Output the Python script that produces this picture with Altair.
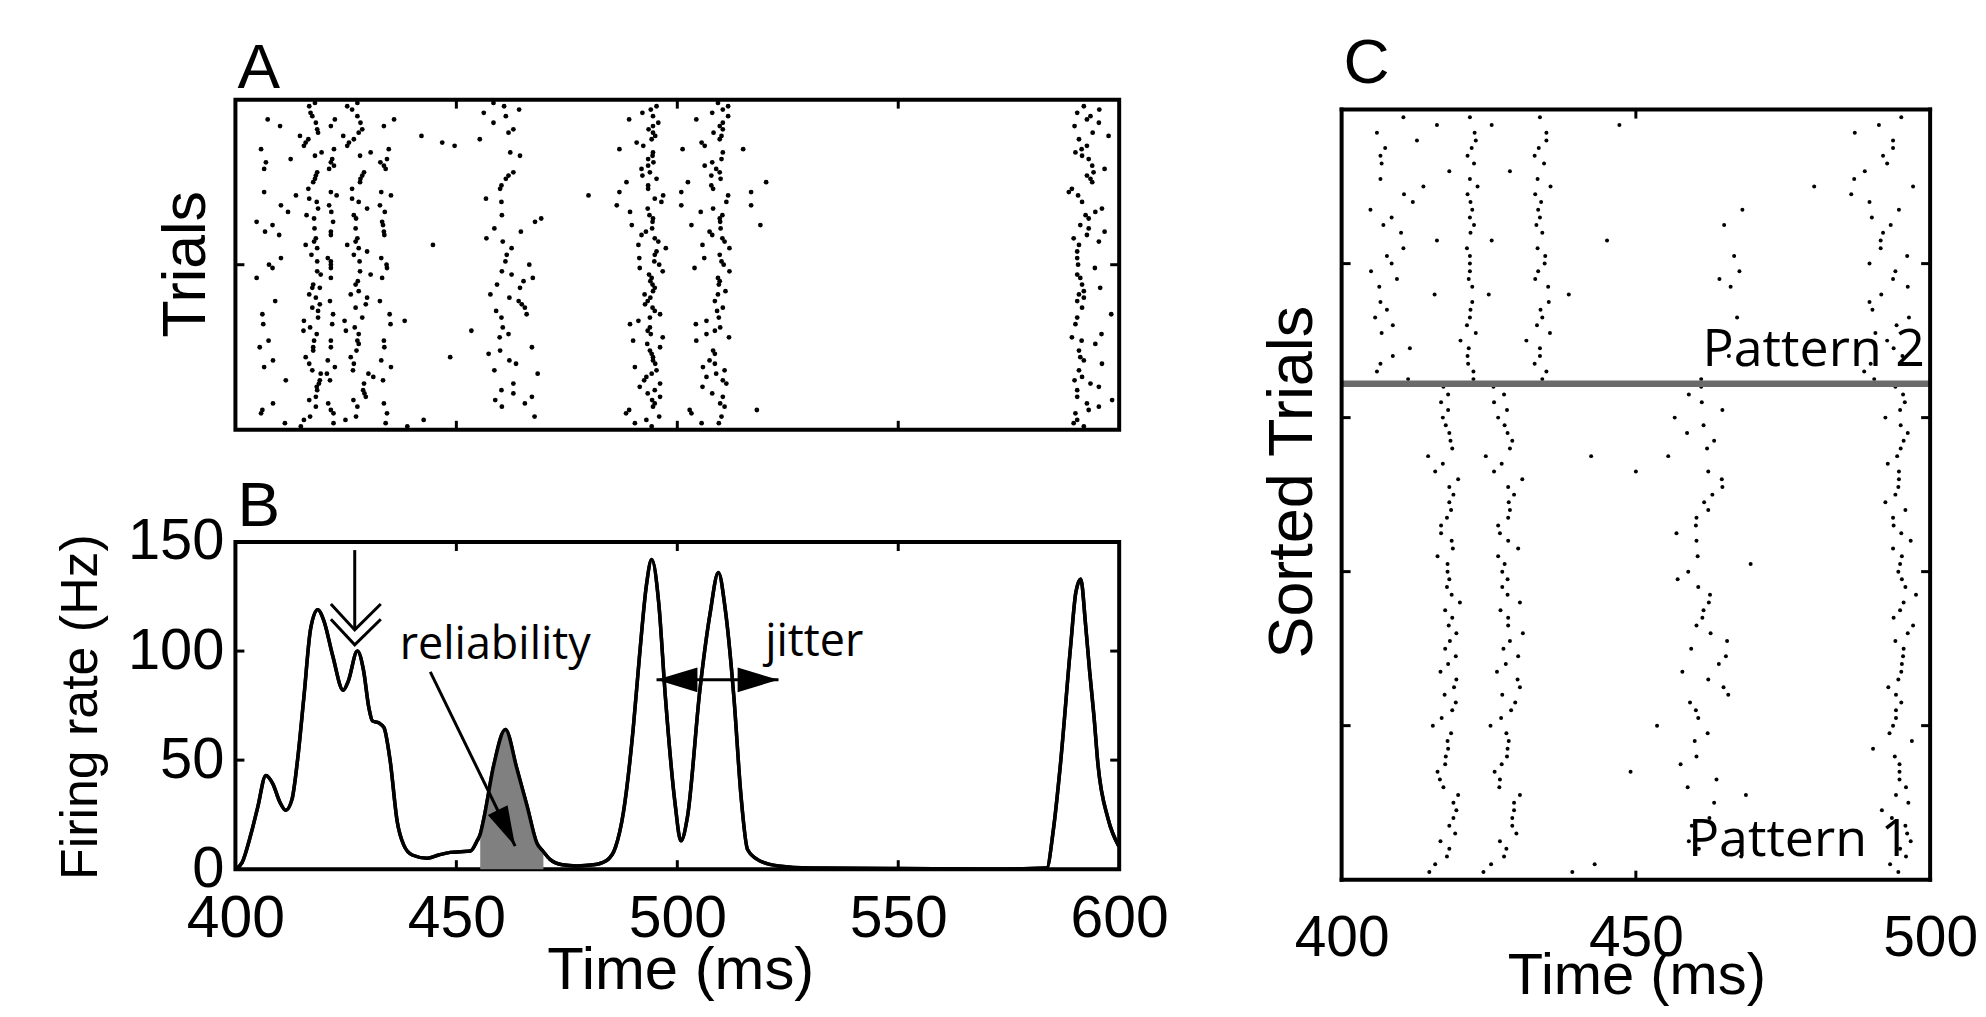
import altair as alt
import pandas as pd

AX_FONT = "Liberation Sans"
ANN_FONT = "Open Sans"

# ---------------- Panel A: raster, (trial, spike time in ms) ----------------
A_EARLY = [
    (98,416.7),(99,418.0),(96,417.0),(95,417.4),(98,425.3),(99,427.6),(97,426.4),(95,427.6),(94,407.3),(92,410.1),
    (93,418.2),(92,421.6),(94,422.5),(93,428.3),(92,433.6),(94,435.9),(91,418.5),(90,418.7),(91,428.7),(90,427.9),
    (89,414.6),(88,416.5),(87,415.9),(86,415.5),(89,424.4),(87,425.7),(86,425.3),(88,426.8),(89,442.1),(85,405.8),
    (82,412.5),(83,418.0),(84,419.5),(85,422.3),(82,421.9),(83,428.2),(84,430.6),(85,434.7),(82,434.3),(81,406.9),
    (79,406.5),(81,421.6),(80,422.3),(79,421.2),(81,432.8),(80,433.6),(79,434.0),(78,418.5),(77,418.2),(76,418.0),
    (75,417.6),(73,416.5),(78,429.1),(77,428.7),(76,428.3),(75,428.2),(73,426.4),(72,406.5),(71,413.7),(72,421.6),
    (71,422.9),(72,433.0),(71,435.2),(70,426.4),(70,416.7),(69,418.4),(67,418.7),(68,410.3),(66,411.9),(68,421.2),
    (66,421.7),(69,427.9),(67,429.8),(68,432.7),(66,433.8),(65,416.1),(64,417.8),(65,426.8),(64,427.3),(63,422.1),
    (63,404.8),(62,408.4),(63,433.2),(62,433.4),(60,406.7),(59,409.9),(61,417.9),(60,421.6),(59,421.6),(61,427.2),
    (60,433.6),(59,433.7),(58,418.2),(57,417.8),(56,415.9),(55,418.5),(53,417.2),(58,427.6),(57,427.2),(56,425.3),
    (55,427.9),(53,426.8),(54,429.8),(52,420.9),(51,421.6),(56,444.7),(52,410.3),(50,407.6),(49,408.4),(51,418.5),
    (47,419.3),(48,418.5),(50,421.6),(49,421.6),(51,428.1),(48,428.2),(52,433.0),(50,434.2),(49,434.3),(46,404.8),
    (44,417.6),(43,417.4),(43,419.1),(46,421.6),(44,427.2),(45,427.7),(41,426.1),(42,427.9),(47,430.6),(46,433.2),
    (41,416.7),(40,418.2),(37,417.4),(38,419.1),(36,418.7),(34,418.7),(33,415.5),(39,409.0),(35,406.1),(32,406.3),
    (39,421.4),(35,422.1),(32,421.9),(40,429.8),(38,429.5),(37,427.2),(39,432.7),(34,428.7),(35,434.9),(32,435.1),
    (33,424.7),(33,438.3),(31,416.9),(30,415.4),(29,418.4),(27,417.8),(25,417.6),(24,417.6),(22,415.9),(27,407.5),
    (25,405.5),(27,421.6),(25,421.6),(31,427.0),(30,425.0),(29,427.9),(27,427.6),(26,427.9),(24,427.4),(22,426.1),
    (27,433.6),(25,433.7),(20,416.7),(18,417.4),(17,419.3),(15,419.1),(14,418.9),(13,418.4),(12,418.5),(21,408.5),
    (19,406.5),(15,411.4),(21,420.9),(19,422.5),(17,420.7),(15,421.4),(20,426.8),(18,426.6),(17,430.1),(16,431.2),
    (15,433.4),(21,433.0),(19,435.2),(14,429.1),(12,428.9),(10,418.2),(9,416.7),(7,418.2),(4,416.9),(3,415.5),
    (8,408.5),(6,406.1),(5,405.8),(2,411.2),(1,414.8),(8,421.0),(6,421.6),(5,422.2),(2,422.2),(9,426.7),
    (7,427.6),(4,427.3),(3,424.9),(11,429.2),(10,429.5),(8,433.6),(5,434.3),(2,434.0),(3,442.6),(1,438.9),
]
A_MID = [
    (87,446.8),(86,449.6),(88,455.3),(99,458.4),(98,460.8),(96,456.2),(95,461.2),(97,464.2),(93,458.4),(91,462.9),
    (90,461.8),(84,462.2),(83,464.4),(77,461.8),(76,461.2),(78,462.9),(74,460.2),(73,459.9),(71,479.9),(70,456.7),
    (69,460.2),(65,460.3),(63,467.8),(64,469.2),(61,458.6),(60,464.6),(58,456.8),(57,460.5),(55,462.5),(53,461.4),
    (51,461.1),(48,460.3),(47,462.5),(50,466.5),(46,467.3),(44,459.2),(45,465.2),(43,464.4),(41,457.7),(40,462.0),
    (39,464.1),(38,464.8),(37,465.5),(36,459.0),(35,465.9),(34,460.2),(30,453.4),(31,460.5),(29,461.8),(28,459.8),
    (25,467.1),(24,459.9),(23,457.3),(22,448.6),(21,462.0),(20,463.5),(18,458.6),(17,468.4),(12,460.2),(14,462.9),
    (11,462.9),(9,458.8),(7,460.3),(10,467.1),(8,465.5),(4,467.7),
]
A_LATE = [
    (98,495.3),(97,494.0),(96,492.1),(95,494.5),(94,489.1),(93,495.7),(92,494.5),(91,493.5),(90,494.5),(89,495.0),
    (88,494.2),(87,490.8),(86,492.3),(85,486.9),(84,494.5),(83,494.4),(82,493.4),(81,494.6),(80,493.4),(79,491.9),
    (78,493.8),(77,492.1),(76,495.3),(75,488.5),(74,493.4),(73,493.4),(72,486.9),(71,496.8),(70,494.9),(69,496.4),
    (68,486.3),(67,493.3),(66,489.3),(65,493.7),(64,494.5),(63,494.4),(62,489.7),(61,494.3),(60,492.9),(59,491.9),
    (58,494.9),(57,495.7),(56,491.2),(55,497.4),(54,495.3),(53,494.9),(52,491.4),(51,494.8),(50,495.9),(49,491.5),
    (48,496.7),(47,493.6),(46,494.2),(45,493.9),(44,494.4),(43,494.9),(42,494.5),(41,492.6),(40,493.9),(39,493.3),
    (38,492.7),(37,494.4),(36,494.9),(35,496.1),(34,493.8),(33,491.2),(32,489.3),(31,493.8),(30,493.3),(29,494.0),
    (28,496.7),(27,490.0),(26,493.2),(25,496.1),(24,493.8),(23,494.2),(22,494.5),(21,494.5),(20,495.0),(19,490.4),
    (18,495.3),(17,494.2),(16,493.0),(15,492.5),(14,496.1),(13,491.5),(12,494.9),(11,493.3),(10,496.1),(9,494.3),
    (8,494.9),(7,494.5),(6,489.1),(5,488.4),(4,495.9),(3,493.0),(2,490.4),(1,494.2),
]
A_510 = [
    (99,509.2),(98,511.5),(97,510.3),(96,507.9),(95,511.5),(94,504.3),(93,510.3),(92,509.6),(91,510.3),(90,508.2),
    (89,510.0),(88,509.6),(87,505.5),(86,506.2),(85,501.2),(85,514.9),(84,510.3),(82,510.0),(80,506.2),(81,507.9),
    (79,508.8),(78,509.6),(77,507.7),(76,509.8),(75,502.4),(75,520.1),(74,507.7),(73,508.1),(72,500.9),(72,516.7),
    (71,511.5),(69,511.1),(68,500.9),(68,516.7),(66,505.3),(67,508.1),(65,510.2),(64,509.6),(63,509.7),(62,503.2),
    (62,518.8),(61,509.8),(60,507.3),(59,507.9),(58,510.2),(57,510.7),(56,505.7),(55,511.8),(53,509.6),(52,506.1),
    (51,510.0),(50,510.5),(49,503.9),(48,511.8),(46,509.2),(45,509.6),(44,509.4),(42,510.9),(41,509.2),(39,508.5),
    (37,510.3),(36,509.0),(34,509.4),(32,504.2),(33,506.6),(31,509.7),(29,506.6),(30,508.5),(28,511.7),(27,504.3),
    (24,508.1),(23,508.5),(21,507.3),(19,505.8),(20,508.5),(17,508.8),(16,506.6),(18,510.7),(15,510.3),(13,505.7),
    (14,511.1),(11,507.9),(10,510.3),(8,509.7),(7,510.7),(6,502.8),(5,503.2),(6,518.0),(4,510.0),(2,505.5),(2,509.4),
]
A_591 = [
    (98,592.0),(96,590.5),(97,595.5),(94,592.7),(95,593.5),(93,595.4),(92,589.9),(90,594.0),(88,590.9),(89,597.6),
    (86,592.7),(84,590.1),(85,591.5),(83,591.6),(82,593.1),(80,593.9),(79,596.7),(77,592.7),(78,594.2),(76,593.5),
    (75,593.9),(73,589.3),(71,590.7),(72,588.6),(69,591.6),(65,592.4),(66,594.6),(67,596.1),(64,593.1),(62,591.2),
    (61,593.1),(59,592.7),(60,596.7),(58,589.7),(57,595.4),(56,590.9),(54,590.5),(52,590.5),(50,590.7),(49,594.5),
    (47,590.5),(46,591.2),(44,591.6),(42,592.0),(43,595.7),(41,590.9),(40,592.0),(39,590.5),(37,591.6),(35,598.2),
    (34,590.5),(32,590.1),(28,589.3),(27,591.5),(26,594.6),(29,596.0),(24,590.9),(22,591.2),(21,592.0),(20,596.1),
    (18,590.9),(16,591.6),(15,589.9),(14,593.5),(13,595.4),(12,590.5),(10,590.5),(8,592.7),(9,598.4),(6,593.1),
    (7,595.4),(5,590.1),(3,590.5),(2,589.7),(1,592.0),
]

# ---------------- Panel B: firing rate curve ----------------
RATE_TIME = [400.0, 401.5, 403.5, 405.0, 406.9, 408.5, 410.0, 411.4, 412.8, 414.0, 415.5, 417.0, 418.6, 420.0,
             422.0, 424.4, 425.5, 427.6, 429.0, 430.2, 431.0, 432.5, 433.6, 435.0, 436.6, 438.1, 440.0, 443.4,
             446.0, 448.6, 451.0, 453.2, 454.7, 455.4, 456.2, 458.5, 461.1, 463.7, 466.0, 468.2, 469.7, 471.2,
             474.0, 477.2, 481.0, 484.0, 486.0, 487.8, 490.0, 491.5, 493.0, 494.2, 495.8, 497.3, 499.5, 500.8,
             502.3, 505.1, 507.4, 509.3, 510.8, 512.8, 514.4, 515.9, 518.5, 522.9, 530.0, 550.0, 570.0, 583.6,
             585.1, 586.7, 589.0, 590.2, 591.3, 592.4, 593.3, 594.3, 595.2, 597.5, 599.9]
RATE_HZ = [0.0, 3.0, 16.0, 28.0, 43.0, 39.0, 31.0, 27.0, 32.0, 49.0, 79.0, 110.0, 119.0, 114.0,
           98.0, 82.0, 86.0, 100.0, 91.0, 74.0, 68.0, 67.0, 65.0, 50.0, 22.0, 11.0, 6.5, 5.0,
           6.5, 7.7, 8.0, 8.3, 13.0, 16.0, 23.0, 48.0, 64.0, 46.0, 29.0, 12.0, 8.0, 4.5,
           2.0, 1.5, 2.0, 4.0, 10.0, 26.0, 64.0, 99.0, 130.0, 142.0, 122.0, 79.0, 30.0, 13.0,
           24.0, 82.0, 117.0, 136.0, 120.0, 79.0, 34.0, 9.0, 4.0, 1.5, 0.5, 0.3, 0.0, 0.5,
           18.0, 48.0, 102.0, 127.0, 133.0, 112.0, 91.0, 70.0, 48.0, 23.0, 10.6]
SHADE_START, SHADE_END = 455.4, 469.7

REL_ARROW = {"x": [444.1], "y": [90.5], "x2": [463.3], "y2": [10.6]}
JIT_ARROW = {"x": [495.3], "y": [86.8], "x2": [522.9], "y2": [86.8]}
DOWN_ARROW = {"x": [427.0], "y": [146.3], "x2": [427.0], "y2": [109.7]}
CHEVRON_ID = [1, 1, 1, 2, 2, 2]
CHEVRON_X = [421.6, 427.0, 432.9, 421.6, 427.0, 432.9]
CHEVRON_Y = [121.6, 109.7, 121.6, 114.6, 102.9, 114.6]
B_TEXT = ["reliability", "jitter"]
B_TEXT_X = [458.8, 531.0]
B_TEXT_Y = [96.5, 97.9]

# ---------------- Panel C: sorted raster ----------------
C_PATTERN2 = [
    (99, [410.5, 421.8, 433.7, 495.1]), (98, [416.2, 425.5, 447.2, 491.3]), (97, [406.0, 422.6, 434.8, 487.2]),
    (96, [412.8, 422.8, 434.8, 493.7]), (95, [407.4, 422.1, 433.5, 493.7]), (94, [406.6, 421.4, 432.8, 492.0]),
    (93, [406.8, 422.5, 434.4, 492.7]), (92, [418.3, 428.6, 488.9]), (91, [406.6, 421.8, 433.3, 487.1]),
    (90, [413.9, 423.1, 435.5, 480.3, 497.1]), (89, [410.6, 421.4, 432.9, 486.6]), (88, [412.1, 421.9, 433.9, 489.7]),
    (87, [404.9, 422.2, 433.4, 468.1, 494.7]), (86, [408.5, 421.8, 433.7, 490.1]),
    (85, [407.1, 422.5, 433.1, 465.0, 493.3]), (84, [410.1, 421.9, 434.1, 492.0]), (83, [416.2, 425.5, 445.1, 491.6]),
    (82, [410.5, 421.3, 433.3, 491.6]), (81, [407.7, 421.8, 434.6, 466.7, 496.1]), (80, [408.5, 421.8, 434.5, 489.7]),
    (79, [405.0, 421.8, 433.4, 467.6, 494.1]), (78, [409.4, 421.6, 432.9, 464.2, 493.7]),
    (77, [406.4, 422.2, 435.1, 466.1, 496.2]), (76, [415.8, 425.0, 438.6, 491.7]), (75, [406.6, 422.2, 435.2, 489.7]),
    (74, [407.7, 421.9, 433.8, 490.2]), (73, [405.7, 421.8, 434.1, 467.2, 496.4]), (72, [408.7, 421.3, 433.2, 494.3]),
    (71, [406.8, 422.8, 435.4, 490.7]), (70, [420.2, 431.4, 492.7]), (69, [411.6, 421.6, 433.7, 493.8]),
    (68, [408.7, 421.4, 433.7, 465.8, 495.3]), (67, [406.6, 421.5, 432.8, 489.9]), (66, [406.0, 422.4, 434.8, 488.8]),
    (65, [411.3, 422.4, 434.1, 461.1, 490.5]),
]
C_PATTERN1 = [
    (64, [417.3, 425.8, 461.1, 494.1]), (63, [418.1, 427.6, 459.0, 495.4]), (62, [416.9, 425.9, 461.2, 495.7]),
    (61, [418.1, 428.1, 464.7, 494.9]), (60, [417.2, 426.6, 456.6, 492.4]), (59, [417.7, 427.7, 461.5, 495.0]),
    (58, [418.3, 428.2, 458.7, 496.2]), (57, [418.5, 429.0, 463.3, 495.5]), (56, [418.8, 428.6, 462.1, 495.0]),
    (55, [414.7, 424.5, 442.4, 455.5, 494.4]), (54, [417.2, 427.2, 492.8]), (53, [415.9, 425.9, 450.0, 462.3, 494.7]),
    (52, [419.8, 430.7, 464.6, 494.7]), (51, [418.3, 428.3, 464.7, 494.6]), (50, [419.0, 429.3, 463.0, 494.1]),
    (49, [418.3, 428.4, 461.6, 492.4]), (48, [418.6, 428.6, 462.3, 495.8]), (47, [417.9, 428.3, 460.3, 493.7]),
    (46, [416.9, 426.6, 460.2, 493.8]), (45, [416.9, 426.9, 456.9, 495.1]), (44, [418.7, 428.3, 460.3, 496.7]),
    (43, [418.9, 430.0, 493.7]), (42, [416.3, 426.6, 460.5, 495.2]), (41, [418.0, 427.7, 469.5, 494.9]),
    (40, [418.0, 427.3, 458.9, 494.6]), (39, [418.3, 428.2, 457.1, 495.2]), (38, [417.9, 427.3, 460.6, 495.8]),
    (37, [418.7, 428.2, 462.6, 497.6]), (36, [420.1, 430.3, 462.4, 495.5]), (35, [417.6, 427.0, 461.5, 494.9]),
    (34, [418.8, 428.3, 461.3, 493.8]), (33, [418.2, 428.3, 460.3, 497.1]), (32, [419.5, 430.8, 462.7, 496.2]),
    (31, [418.4, 428.6, 465.5, 494.1]), (30, [417.6, 427.5, 459.4, 495.5]), (29, [419.4, 430.0, 465.3, 495.4]),
    (28, [418.1, 427.9, 464.1, 495.2]), (27, [416.8, 426.4, 457.9, 495.1]), (26, [419.5, 429.9, 462.3, 494.6]),
    (25, [419.1, 430.3, 464.9, 492.9]), (24, [417.5, 427.3, 465.7, 494.2]), (23, [419.4, 429.5, 459.2, 495.1]),
    (22, [418.8, 428.8, 460.2, 494.2]), (21, [417.0, 427.1, 460.6, 494.2]), (20, [415.5, 425.3, 453.6, 493.7]),
    (19, [418.6, 428.0, 462.2, 493.1]), (18, [418.0, 428.4, 460.0, 496.9]), (17, [418.1, 428.2, 490.3]),
    (16, [417.7, 428.1, 460.3, 494.0]), (15, [417.6, 427.2, 457.6, 494.8]), (14, [416.3, 426.0, 449.1, 494.8]),
    (13, [416.7, 426.9, 463.7, 494.8]), (12, [417.3, 426.8, 458.8, 495.9]), (11, [419.8, 430.3, 468.7, 494.2]),
    (10, [419.0, 429.3, 463.3, 496.3]), (9, [419.5, 429.3, 491.8]), (8, [419.0, 429.0, 462.5, 493.5]),
    (7, [418.3, 429.0, 459.5, 495.8]), (6, [419.3, 429.7, 496.1]), (5, [416.8, 426.9, 459.0, 496.7]),
    (4, [418.3, 428.0, 460.7, 494.9]), (3, [417.9, 427.6, 467.9, 495.9]), (2, [415.9, 425.4, 443.0, 493.2]),
    (1, [414.9, 424.1, 439.2, 494.6]),
]
PATTERN_SPLIT = 64.4
C_TEXT = ["Pattern 2", "Pattern 1"]
C_TEXT_X = [499.1, 496.6]
C_TEXT_Y = [66.7, 3.1]

# ticks / labels
A_X_TICKS, A_Y_TICKS = [450, 500, 550], [50]
B_X_TICKS, B_Y_TICKS = [450, 500, 550], [50, 100]
C_X_TICKS, C_Y_TICKS = [450], [20, 40, 60, 80]
B_X_LABELS = [400, 450, 500, 550, 600]
B_Y_LABELS = [0, 50, 100, 150]
C_X_LABELS = [400, 450, 500]

# ---------------- geometry ----------------
W_AB, H_A, H_B = 886, 331, 328
W_C, C_TOP, C_BOTTOM = 590, 10, 782      # C view is 782 tall, box starts a few px below its top
TL = 9
FRAME_W = 4
BOX = alt.ViewBackground(stroke="black", strokeWidth=FRAME_W)

XA = alt.Scale(domain=[400, 600], nice=False, zero=False)
YA = alt.Scale(domain=[0, 100], nice=False, zero=False)
XB = alt.Scale(domain=[400, 600], nice=False, zero=False)
YB = alt.Scale(domain=[0, 150], nice=False, zero=False)
XC = alt.Scale(domain=[400, 500], nice=False, zero=False)
YC = alt.Scale(domain=[0, 100], nice=False, zero=False, range=[C_BOTTOM, C_TOP])


def pairs_df(groups):
    rows = []
    for g in groups:
        for t, ms in g:
            rows.append({"trial": t, "time": ms})
    return pd.DataFrame(rows)


def xenc(field, scale, hide):
    return alt.X(field, scale=scale, axis=None) if hide else alt.X(field, scale=scale)


def yenc(field, scale, hide):
    return alt.Y(field, scale=scale, axis=None) if hide else alt.Y(field, scale=scale)


def inner_ticks(xvals, yvals, xs, ys, W, top, bottom, hide_x=False):
    out = []
    dx = pd.DataFrame({"v": xvals})
    dy = pd.DataFrame({"v": yvals})
    r = dict(color="black", strokeWidth=3)
    out.append(alt.Chart(dx).mark_rule(**r).encode(x=xenc("v:Q", xs, hide_x), y=alt.value(top), y2=alt.value(top + TL)))
    out.append(alt.Chart(dx).mark_rule(**r).encode(x=xenc("v:Q", xs, hide_x), y=alt.value(bottom), y2=alt.value(bottom - TL)))
    out.append(alt.Chart(dy).mark_rule(**r).encode(y=yenc("v:Q", ys, False), x=alt.value(0), x2=alt.value(TL)))
    out.append(alt.Chart(dy).mark_rule(**r).encode(y=yenc("v:Q", ys, False), x=alt.value(W), x2=alt.value(W - TL)))
    return out


def letter(ch, x, y):
    return alt.Chart(pd.DataFrame({"t": [ch]})).mark_text(
        font=AX_FONT, fontSize=64, align="left", baseline="alphabetic", color="black"
    ).encode(text="t:N", x=alt.value(x), y=alt.value(y))


# ---------------- Panel A ----------------
a_df = pairs_df([A_EARLY, A_MID, A_LATE, A_510, A_591])
a_dots = alt.Chart(a_df).mark_circle(size=23, color="black", opacity=1).encode(
    x=alt.X("time:Q", scale=XA, axis=None),
    y=alt.Y("trial:Q", scale=YA, axis=alt.Axis(
        title="Trials", labels=False, ticks=False, domain=False, grid=False,
        titleFontSize=61, titleAngle=270, titleBaseline="alphabetic", titleAlign="center",
        titleX=-31.5, titleY=164.5)),
)
panel_a = alt.layer(a_dots, *inner_ticks(A_X_TICKS, A_Y_TICKS, XA, YA, W_AB, 0, H_A, hide_x=True),
                    letter("A", 2, -12)).properties(width=W_AB, height=H_A, view=BOX)

# ---------------- Panel B ----------------
rate_df = pd.DataFrame({"time": RATE_TIME, "rate": RATE_HZ})
shade_df = rate_df[(rate_df.time >= SHADE_START) & (rate_df.time <= SHADE_END)]

b_shade = alt.Chart(shade_df).mark_area(color="#808080", interpolate="monotone").encode(
    x=alt.X("time:Q", scale=XB), y=alt.Y("rate:Q", scale=YB))
b_line = alt.Chart(rate_df).mark_line(color="black", strokeWidth=3.5, interpolate="monotone").encode(
    x=alt.X("time:Q", scale=XB, axis=alt.Axis(
        values=B_X_LABELS, title="Time (ms)", format="d", labelFontSize=59, labelPadding=67,
        labelBaseline="alphabetic", ticks=False, tickSize=0, domain=False, grid=False,
        labelFlush=False, labelOverlap=False, titleFontSize=60, titleX=446, titleY=120,
        titleBaseline="alphabetic", titleAlign="center")),
    y=alt.Y("rate:Q", scale=YB, axis=alt.Axis(
        values=B_Y_LABELS, title="Firing rate (Hz)", format="d", labelFontSize=58, labelPadding=11.5,
        labelAlign="right", labelBaseline="middle", ticks=False, tickSize=0, domain=False, grid=False,
        labelFlush=False, labelOverlap=False, titleFontSize=52, titleAngle=270,
        titleBaseline="alphabetic", titleAlign="center", titleX=-139, titleY=165)),
)


def seg(d, w=3):
    return alt.Chart(pd.DataFrame(d)).mark_rule(color="black", strokeWidth=w).encode(
        x=alt.X("x:Q", scale=XB), y=alt.Y("y:Q", scale=YB), x2="x2:Q", y2="y2:Q")


def head(x, y, ang, length, half):
    path = "M0,0L-%s,-2L%s,-2Z" % (half, half)
    return alt.Chart(pd.DataFrame({"x": [x], "y": [y]})).mark_point(
        shape=path, filled=True, color="black", opacity=1, strokeWidth=0, size=length * length, angle=ang
    ).encode(x=alt.X("x:Q", scale=XB), y=alt.Y("y:Q", scale=YB))


chev = alt.Chart(pd.DataFrame({"id": CHEVRON_ID, "x": CHEVRON_X, "y": CHEVRON_Y, "o": [0, 1, 2, 0, 1, 2]})).mark_line(
    color="black", strokeWidth=3).encode(
    x=alt.X("x:Q", scale=XB), y=alt.Y("y:Q", scale=YB), detail="id:N", order="o:Q")

b_text = alt.Chart(pd.DataFrame({"t": B_TEXT, "x": B_TEXT_X, "y": B_TEXT_Y})).mark_text(
    font=ANN_FONT, fontSize=45, align="center", baseline="alphabetic", color="black").encode(
    x=alt.X("x:Q", scale=XB), y=alt.Y("y:Q", scale=YB), text="t:N")

panel_b = alt.layer(
    b_line, b_shade, b_line.encode(), seg(REL_ARROW), seg(JIT_ARROW), seg(DOWN_ARROW), chev,
    head(REL_ARROW["x2"][0], REL_ARROW["y2"][0], 334.1, 40, 0.55),
    head(JIT_ARROW["x"][0], JIT_ARROW["y"][0], 90, 41, 0.6),
    head(JIT_ARROW["x2"][0], JIT_ARROW["y2"][0], 270, 41, 0.6),
    b_text, *inner_ticks(B_X_TICKS, B_Y_TICKS, XB, YB, W_AB, 0, H_B), letter("B", 2, -16),
).properties(width=W_AB, height=H_B, view=BOX)

# ---------------- Panel C ----------------
c_rows = [{"trial": t, "time": ms} for t, times in C_PATTERN2 + C_PATTERN1 for ms in times]
c_df = pd.DataFrame(c_rows)
c_text = alt.Chart(pd.DataFrame({"t": C_TEXT, "x": C_TEXT_X, "y": C_TEXT_Y})).mark_text(
    font=ANN_FONT, fontSize=52, align="right", baseline="alphabetic", color="black").encode(
    x=alt.X("x:Q", scale=XC), y=alt.Y("y:Q", scale=YC), text="t:N")
c_dots = alt.Chart(c_df).mark_circle(size=16, color="black", opacity=1).encode(
    x=alt.X("time:Q", scale=XC, axis=alt.Axis(
        values=C_X_LABELS, title="Time (ms)", format="d", labelFontSize=57, labelPadding=76,
        labelBaseline="alphabetic", ticks=False, tickSize=0, domain=False, grid=False,
        labelFlush=False, labelOverlap=False, titleFontSize=58, titleX=295.5, titleY=114,
        titleBaseline="alphabetic", titleAlign="center")),
    y=alt.Y("trial:Q", scale=YC, axis=alt.Axis(
        title="Sorted Trials", labels=False, ticks=False, domain=False, grid=False,
        titleFontSize=63, titleAngle=270, titleBaseline="alphabetic", titleAlign="center",
        titleX=-30.5, titleY=383)),
)
c_split = alt.Chart(pd.DataFrame({"trial": [PATTERN_SPLIT]})).mark_rule(color="#6b6b6b", strokeWidth=6.5).encode(
    y=alt.Y("trial:Q", scale=YC), x=alt.value(0), x2=alt.value(W_C))
one = pd.DataFrame({"k": [0]})
box_kw = dict(color="black", strokeWidth=FRAME_W, strokeCap="square")
c_box = [
    alt.Chart(one).mark_rule(**box_kw).encode(x=alt.value(0), x2=alt.value(W_C), y=alt.value(C_TOP)),
    alt.Chart(one).mark_rule(**box_kw).encode(x=alt.value(0), x2=alt.value(W_C), y=alt.value(C_BOTTOM)),
    alt.Chart(one).mark_rule(**box_kw).encode(x=alt.value(0), y=alt.value(C_TOP), y2=alt.value(C_BOTTOM)),
    alt.Chart(one).mark_rule(**box_kw).encode(x=alt.value(W_C), y=alt.value(C_TOP), y2=alt.value(C_BOTTOM)),
]
panel_c = alt.layer(c_dots, c_text, c_split, *c_box,
                    *inner_ticks(C_X_TICKS, C_Y_TICKS, XC, YC, W_C, C_TOP, C_BOTTOM),
                    letter("C", 2, -17)).properties(width=W_C, height=C_BOTTOM)

left = alt.vconcat(panel_a, panel_b, spacing=39.5)
chart = alt.hconcat(left, panel_c, spacing=90).properties(
    padding={"left": 45, "top": 22.6, "right": 0, "bottom": 0}, background="white"
).configure_view(strokeWidth=0).configure_axis(
    labelFont=AX_FONT, titleFont=AX_FONT, labelColor="black", titleColor="black", titleFontWeight="normal"
)

chart.save("out.html", embed_options={"renderer": "svg", "actions": False})
